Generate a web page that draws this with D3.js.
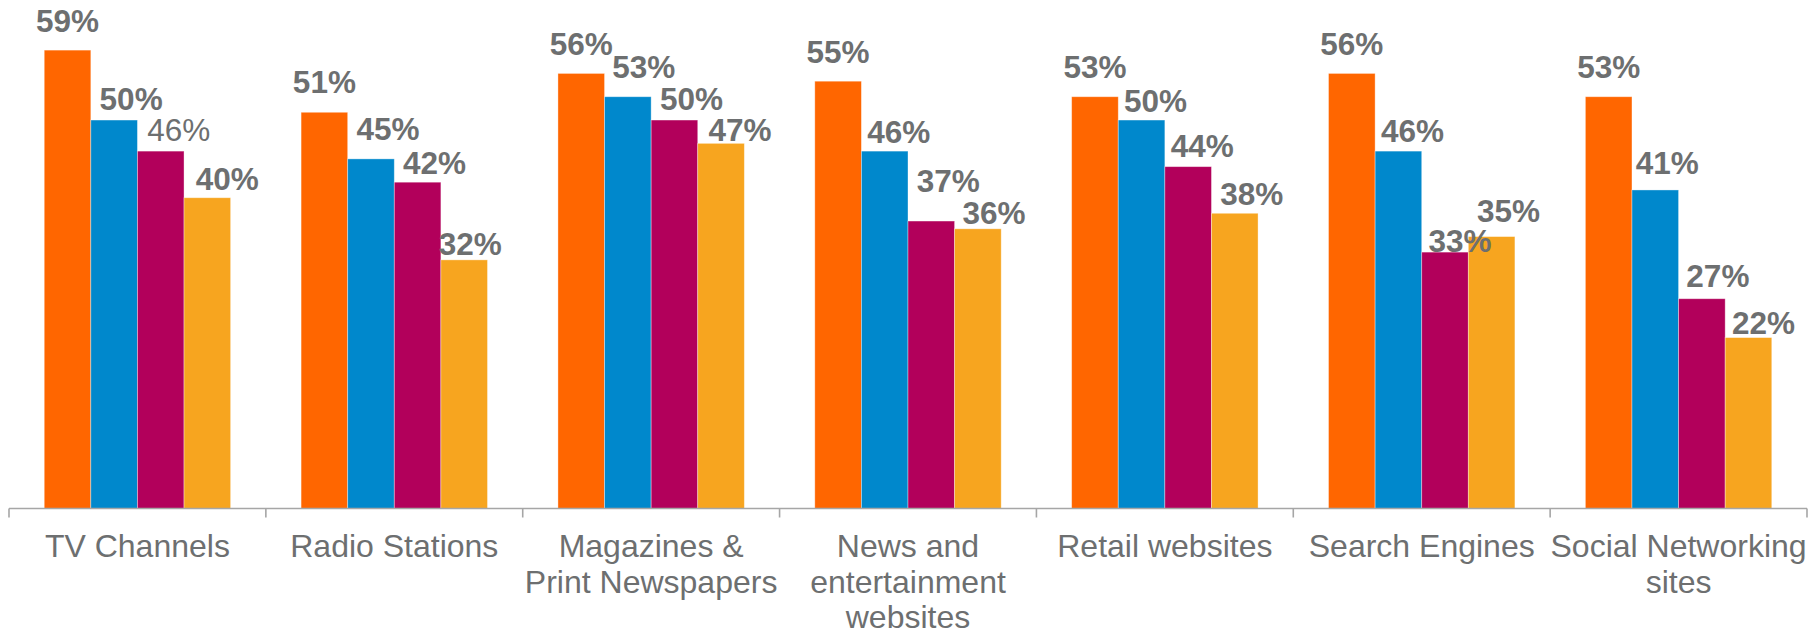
<!DOCTYPE html>
<html>
<head>
<meta charset="utf-8">
<script src="https://cdn.jsdelivr.net/npm/d3@7"></script>
<style>
  html, body { margin: 0; padding: 0; background: #ffffff; }
  svg { display: block; }
  text { font-family: "Liberation Sans", Arial, sans-serif; }
</style>
</head>
<body>
<svg id="chart" width="1813" height="635"></svg>
<script>
// Category names ("\n" marks a line break in the axis label)
const categories = [
  "TV Channels",
  "Radio Stations",
  "Magazines &\nPrint Newspapers",
  "News and\nentertainment\nwebsites",
  "Retail websites",
  "Search Engines",
  "Social Networking\nsites"
];

// Four series, in percent
const seriesNames = ["Series 1", "Series 2", "Series 3", "Series 4"];
const series1 = [59, 51, 56, 55, 53, 56, 53];
const series2 = [50, 45, 53, 46, 50, 46, 41];
const series3 = [46, 42, 50, 37, 44, 33, 27];
const series4 = [40, 32, 47, 36, 38, 35, 22];
const seriesValues = [series1, series2, series3, series4];

const seriesColors = ["#FF6600", "#0088CC", "#B2005B", "#F7A51F"];

// Hand placement of the value labels: horizontal shift and lift above the bar (px)
const labelShiftX = [
  [0, 0, 0, 0, 0, 0, 0],
  [17, 17, 16, 14, 14, 14, 12],
  [18, 17, 17, 17, 14, 15, 16],
  [20, 6, 19, 16, 17, 17, 15]
];
const labelLift = [
  [18, 19, 18, 18, 19, 18, 19],
  [10, 19, 19, 8, 8, 9, 16],
  [10, 8, 10, 29, 10, 0, 12],
  [8, 5, 2, 5, 8, 15, 4]
];
// Value labels set in regular weight rather than bold: [series, category]
const plainLabels = [[2, 0]];

const textColor = "#6D6F70";
const axisColor = "#A6A6A6";

const svg = d3.select("#chart");

const x0 = d3.scaleBand()
  .domain(categories)
  .range([9, 1807])
  .paddingInner(0)
  .paddingOuter(0);

const x1 = d3.scaleBand()
  .domain(seriesNames)
  .range([0, x0.bandwidth()])
  .paddingInner(0)
  .paddingOuter(0.756);

const y = d3.scaleLinear()
  .domain([0, 65])
  .range([508.5, 3.5]);

// Flatten into one record per bar
const bars = [];
categories.forEach((c, ci) => {
  seriesNames.forEach((s, si) => {
    bars.push({ cat: c, ci, series: s, si, value: seriesValues[si][ci] });
  });
});

// Bars
svg.append("g")
  .selectAll("rect")
  .data(bars)
  .join("rect")
  .attr("x", d => x0(d.cat) + x1(d.series))
  .attr("y", d => y(d.value))
  .attr("width", x1.bandwidth())
  .attr("height", d => y(0) - y(d.value))
  .attr("fill", d => seriesColors[d.si])
  .attr("stroke", "#ffffff")
  .attr("stroke-opacity", 0.45)
  .attr("stroke-width", 0.8);

// Value labels
const isPlain = d => plainLabels.some(p => p[0] === d.si && p[1] === d.ci);
svg.append("g")
  .selectAll("text")
  .data(bars)
  .join("text")
  .attr("x", d => x0(d.cat) + x1(d.series) + x1.bandwidth() / 2 + labelShiftX[d.si][d.ci])
  .attr("y", d => y(d.value) - labelLift[d.si][d.ci])
  .attr("text-anchor", "middle")
  .attr("font-size", 31.5)
  .attr("font-weight", d => isPlain(d) ? "normal" : "bold")
  .attr("fill", textColor)
  .text(d => d.value + "%");

// Category axis: baseline with tick marks at group boundaries
const axisY = y(0);
const axis = svg.append("g");
axis.append("line")
  .attr("x1", x0.range()[0])
  .attr("x2", x0.range()[1])
  .attr("y1", axisY)
  .attr("y2", axisY)
  .attr("stroke", axisColor)
  .attr("stroke-width", 1.6);

const boundaries = categories.map(c => x0(c)).concat([x0.range()[1]]);
axis.selectAll("line.tick")
  .data(boundaries)
  .join("line")
  .attr("class", "tick")
  .attr("x1", d => d)
  .attr("x2", d => d)
  .attr("y1", axisY)
  .attr("y2", axisY + 9)
  .attr("stroke", axisColor)
  .attr("stroke-width", 1.6);

// Category labels, centred under each group
const catLabels = axis.selectAll("text.cat")
  .data(categories)
  .join("text")
  .attr("class", "cat")
  .attr("x", d => x0(d) + x0.bandwidth() / 2)
  .attr("y", 557)
  .attr("text-anchor", "middle")
  .attr("font-size", 32)
  .attr("fill", textColor);

catLabels.each(function(d) {
  const lines = d.split("\n");
  const t = d3.select(this);
  lines.forEach((line, i) => {
    t.append("tspan")
      .attr("x", x0(d) + x0.bandwidth() / 2)
      .attr("dy", i === 0 ? 0 : 35.5)
      .text(line);
  });
});
</script>
</body>
</html>
